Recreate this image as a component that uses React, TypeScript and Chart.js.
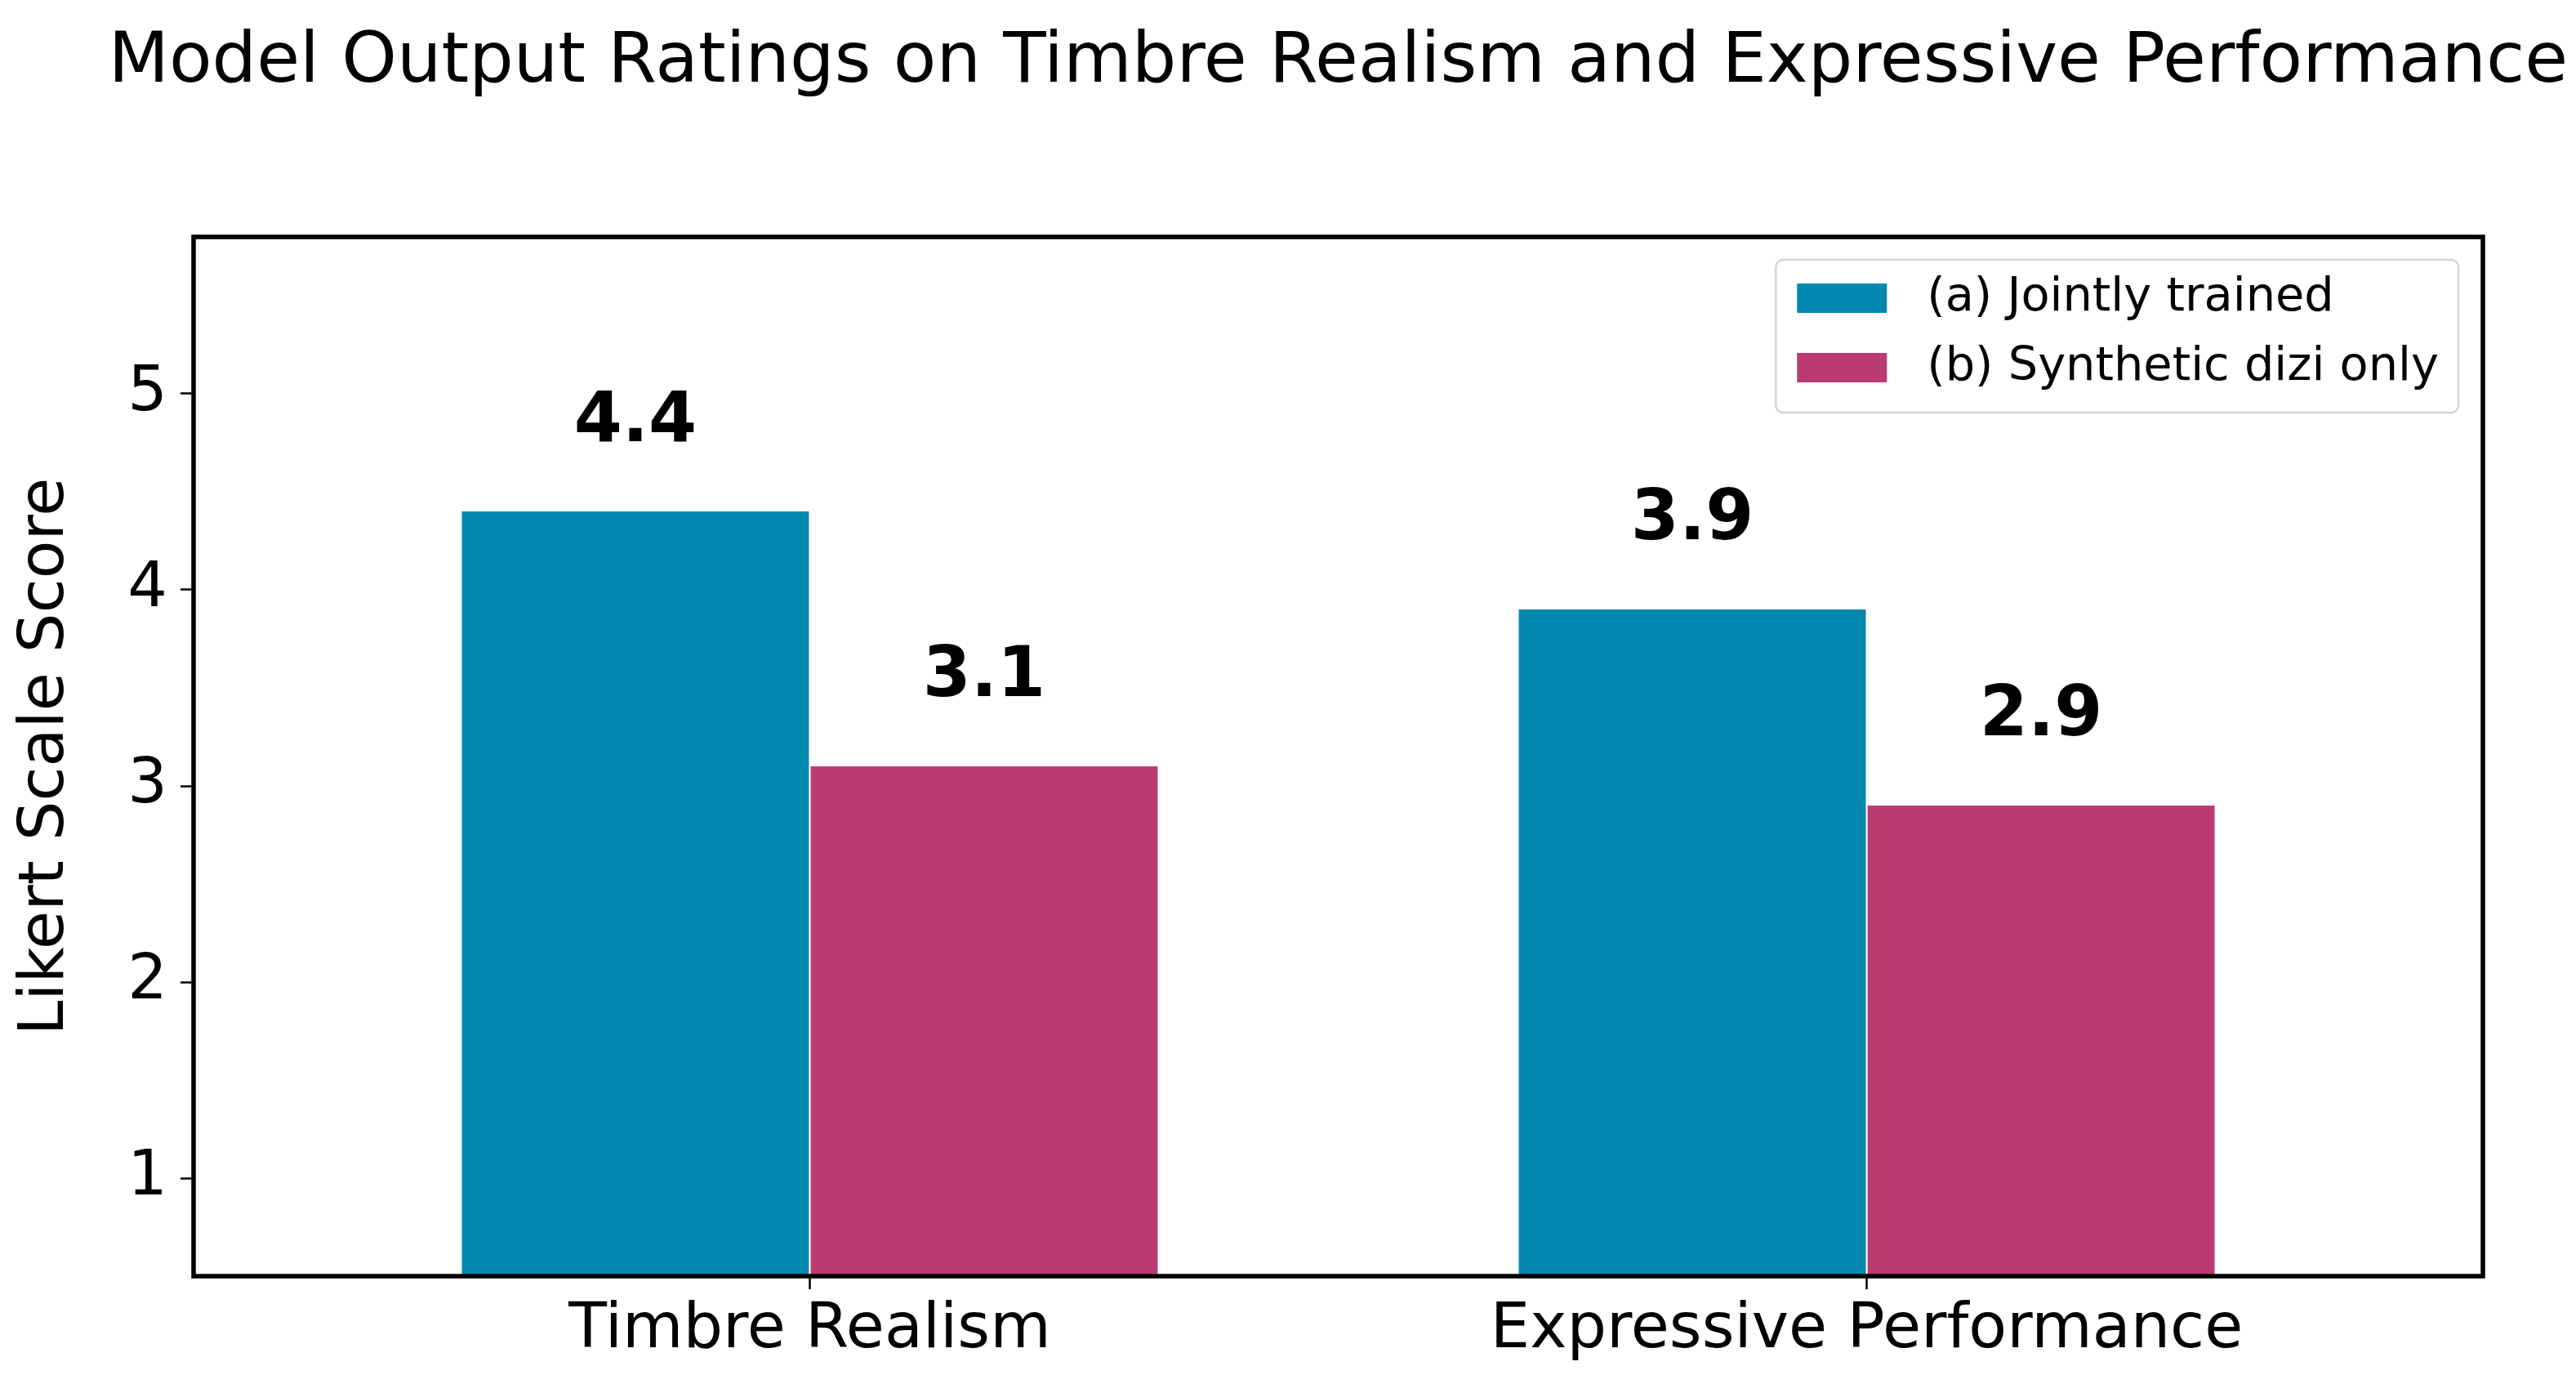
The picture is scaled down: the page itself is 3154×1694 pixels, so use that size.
import React, { useEffect, useRef } from 'react';
import { Chart, registerables } from 'chart.js';

Chart.register(...registerables);

const TITLE = 'Model Output Ratings on Timbre Realism and Expressive Performance';
const Y_LABEL = 'Likert Scale Score';
const categories = ['Timbre Realism', 'Expressive Performance'];
const seriesNames = ['(a) Jointly trained', '(b) Synthetic dizi only'];
const jointlyTrained = [4.4, 3.9];
const syntheticOnly = [3.1, 2.9];
const yTicks = [1, 2, 3, 4, 5];
const seriesColors = ['#0188AF', '#BB3A72'];

const FONT = '"DejaVu Sans", "Liberation Sans", sans-serif';

const overlayPlugin = {
  id: 'overlay',
  afterDraw(chart: any) {
    const { ctx, chartArea: a } = chart;
    ctx.save();

    // title, centred over the plot area
    ctx.font = `86px ${FONT}`;
    ctx.fillStyle = '#000';
    ctx.textAlign = 'center';
    ctx.textBaseline = 'alphabetic';
    ctx.fillText(TITLE, (a.left + a.right) / 2, 100);

    // value labels above bars
    ctx.font = `bold 85px ${FONT}`;
    chart.data.datasets.forEach((ds: any, di: number) => {
      const meta = chart.getDatasetMeta(di);
      meta.data.forEach((el: any, i: number) => {
        const v = ds.data[i].y;
        ctx.fillText(v.toFixed(1), el.x, el.y - 86);
      });
    });

    // axes frame
    ctx.lineWidth = 5.5;
    ctx.strokeStyle = '#000';
    ctx.strokeRect(a.left, a.top, a.right - a.left, a.bottom - a.top);

    // legend
    ctx.font = `57.4px ${FONT}`;
    const textW = Math.max(...chart.data.datasets.map((d: any) => ctx.measureText(d.label).width));
    const textOffset = 185;
    const boxW = textOffset + textW + 24;
    const boxH = 187;
    const boxRight = a.right - 30;
    const boxLeft = boxRight - boxW;
    const boxTop = a.top + 28;
    ctx.beginPath();
    (ctx as any).roundRect(boxLeft, boxTop, boxW, boxH, 9);
    ctx.fillStyle = 'rgba(255,255,255,0.85)';
    ctx.fill();
    ctx.lineWidth = 2.5;
    ctx.strokeStyle = '#d4d4d4';
    ctx.stroke();

    chart.data.datasets.forEach((ds: any, di: number) => {
      const cy = boxTop + 47 + di * 85;
      ctx.fillStyle = ds.backgroundColor;
      ctx.fillRect(boxLeft + 26, cy - 18, 110, 36);
      ctx.fillStyle = '#000';
      ctx.textAlign = 'left';
      ctx.textBaseline = 'middle';
      ctx.fillText(ds.label, boxLeft + textOffset, cy);
    });

    ctx.restore();
  },
};

export default function App() {
  const canvasRef = useRef<HTMLCanvasElement | null>(null);

  useEffect(() => {
    document.body.style.margin = '0';
    const canvas = canvasRef.current;
    if (!canvas) return;

    const datasets = [jointlyTrained, syntheticOnly].map((vals, si) => ({
      label: seriesNames[si],
      data: vals.map((v, i) => ({ x: i, y: v })),
      backgroundColor: seriesColors[si],
      borderWidth: 0,
      categoryPercentage: 0.66,
      barPercentage: 0.995,
    }));

    const chart = new Chart(canvas, {
      type: 'bar',
      data: { datasets },
      plugins: [overlayPlugin],
      options: {
        animation: false,
        responsive: false,
        devicePixelRatio: 1,
        layout: { padding: { left: 0, right: 114, top: 290, bottom: 0 } },
        plugins: {
          legend: { display: false },
          tooltip: { enabled: false },
          title: { display: false },
        },
        scales: {
          x: {
            type: 'linear',
            min: -0.583,
            max: 1.583,
            offset: false,
            afterBuildTicks: (scale: any) => {
              scale.ticks = categories.map((_, i) => ({ value: i }));
            },
            afterFit: (scale: any) => {
              scale.height = 132;
            },
            ticks: {
              color: '#000',
              font: { family: FONT, size: 76.5, lineHeight: 1.2 },
              padding: 5,
              maxRotation: 0,
              autoSkip: false,
              callback: (v: any) => categories[Math.round(Number(v))] ?? '',
            },
            grid: {
              display: true,
              offset: false,
              drawOnChartArea: false,
              drawTicks: true,
              tickLength: 16,
              tickWidth: 2.5,
              tickColor: '#000',
            },
            border: { display: false },
          },
          y: {
            type: 'linear',
            min: 0.5,
            max: 5.8,
            afterBuildTicks: (scale: any) => {
              scale.ticks = yTicks.map((v) => ({ value: v }));
            },
            afterFit: (scale: any) => {
              scale.width = 237;
            },
            ticks: {
              color: '#000',
              font: { family: FONT, size: 76.5, lineHeight: 1.2 },
              padding: 16,
              callback: (v: any) => String(v),
            },
            grid: {
              display: true,
              offset: false,
              drawOnChartArea: false,
              drawTicks: true,
              tickLength: 16,
              tickWidth: 2.5,
              tickColor: '#000',
            },
            border: { display: false },
            title: {
              display: true,
              text: Y_LABEL,
              color: '#000',
              font: { family: FONT, size: 76.5, lineHeight: 1.2 },
              padding: { top: 11, bottom: 0 },
            },
          },
        },
      } as any,
    });

    return () => chart.destroy();
  }, []);

  return (
    <div style={{ width: 3154, height: 1694, background: '#fff' }}>
      <canvas ref={canvasRef} width={3154} height={1694} style={{ width: 3154, height: 1694, display: 'block' }} />
    </div>
  );
}
